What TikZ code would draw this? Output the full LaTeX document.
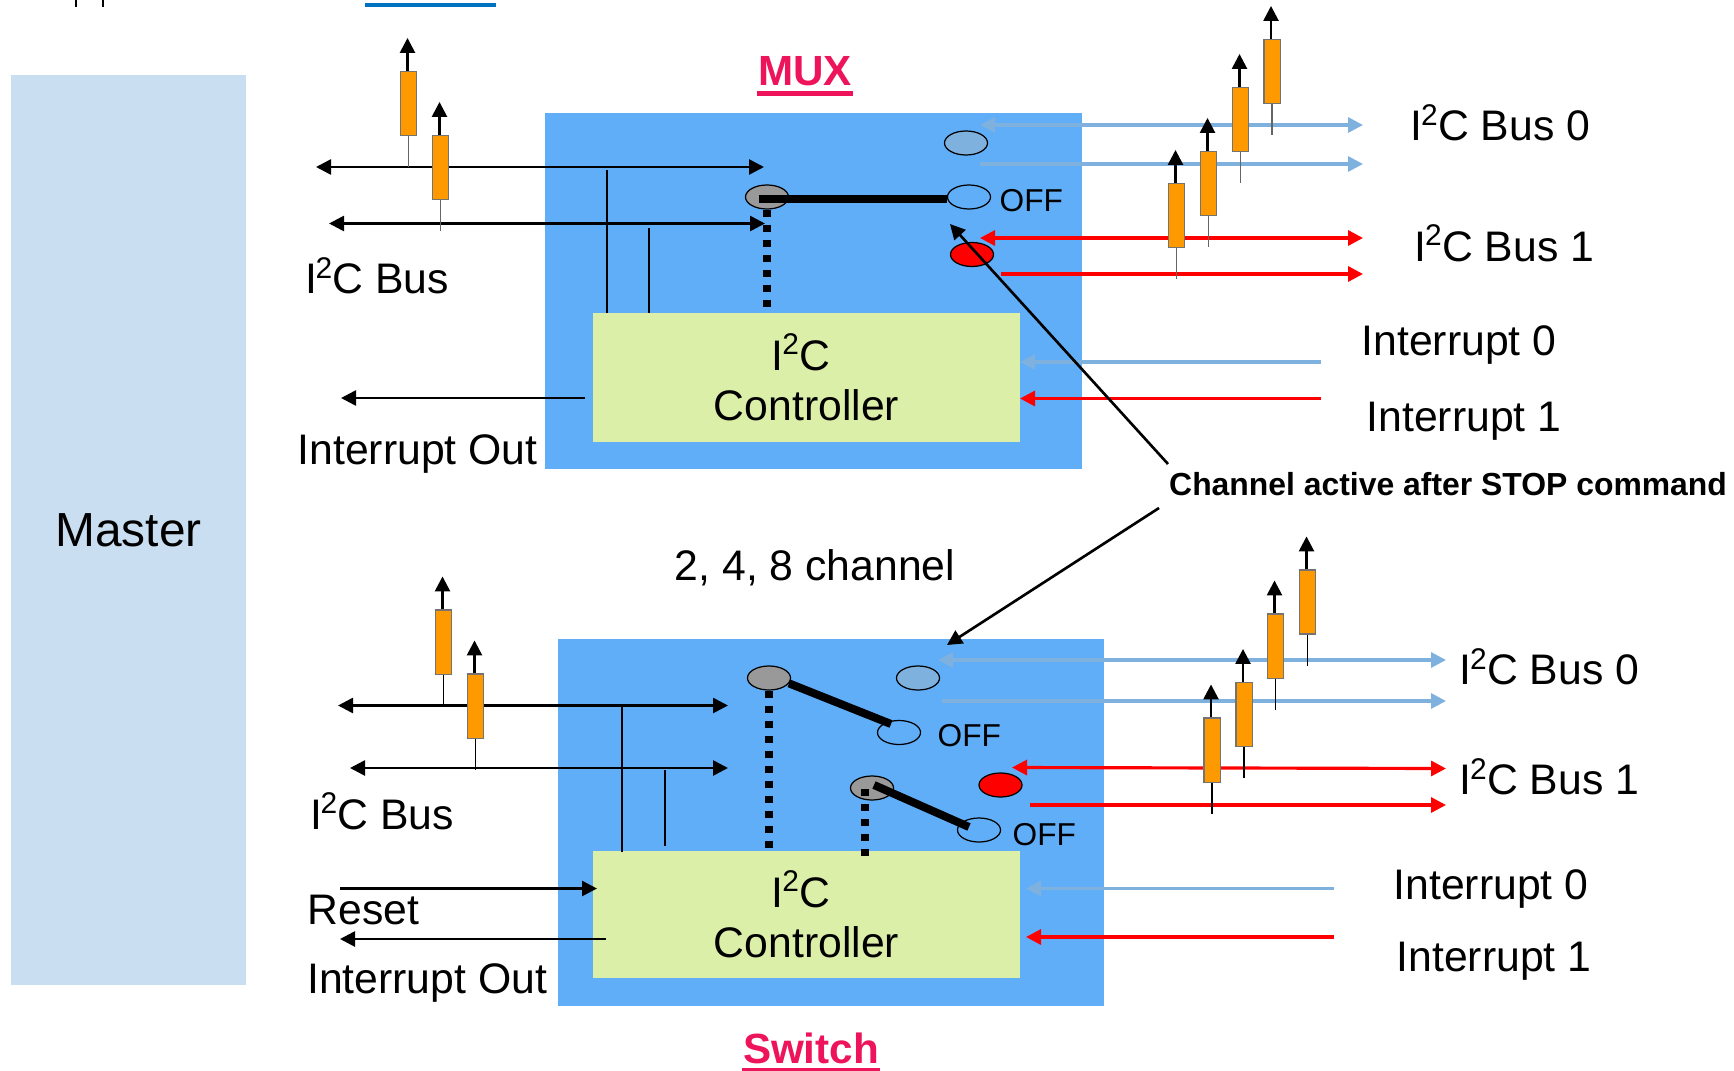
\documentclass[tikz,border=0pt]{standalone}
\usepackage{xcolor}
\usepackage{fontspec}
\setmainfont{Liberation Sans}
\usetikzlibrary{arrows.meta,shapes.geometric}
\definecolor{MasterBlue}{HTML}{C9DEF0}
\definecolor{BoxBlue}{HTML}{60AEF8}
\definecolor{CtrlGreen}{HTML}{DCEFA9}
\definecolor{BusBlue}{HTML}{7EB1DE}
\definecolor{TitleRed}{HTML}{ED145B}
\definecolor{RuleBlue}{HTML}{0070C0}
\definecolor{StubOrange}{HTML}{FF9900}
\newcommand{\itc}{I\kern-0.4pt\textsuperscript{2}\kern-0.4pt C}

\tikzset{
    lab/.style={inner sep=0pt, anchor=base west, font=\fontsize{12.15pt}{14pt}\selectfont},
    offlab/.style={lab, font=\fontsize{9pt}{11pt}\selectfont},
    titlelab/.style={inner sep=0pt, anchor=base, text=TitleRed, font=\fontsize{12pt}{14pt}\selectfont\bfseries},
    titleline/.style={draw=TitleRed, line width=0.05cm},
    chipbox/.style={fill=BoxBlue, inner sep=0pt},
    ctrlbox/.style={fill=CtrlGreen, inner sep=0pt, minimum width=4.27cm, align=center, font=\fontsize{12.15pt}{14.4pt}\selectfont},
    stubbox/.style={draw=black!55, line width=0.3pt, fill=StubOrange, inner sep=0pt, minimum width=0.16cm, minimum height=0.64cm},
    contact/.style={draw=black, line width=0.35pt, ellipse, inner sep=0pt, minimum width=0.43cm, minimum height=0.24cm},
    lever/.style={line width=0.08cm},
    dotline/.style={line width=0.08cm, dash pattern=on 0.07cm off 0.08cm},
    wire/.style={line width=0.75pt, >={Triangle[length=0.15cm,width=0.15cm]}},
    bluewire/.style={wire, draw=BusBlue, line width=0.9pt},
    redwire/.style={wire, draw=red, line width=0.9pt}
}

\begin{document}
\begin{tikzpicture}[x=0.01cm, y=-0.01cm]
    \useasboundingbox (0,0) rectangle (1734,1070);

    \fill[black] (74.5,0) rectangle (77,7);
    \fill[black] (101.5,0) rectangle (104,7);
    \fill[RuleBlue] (365,3) rectangle (496,7);

    \node[fill=MasterBlue, inner sep=0pt, minimum width=2.35cm, minimum height=9.09cm, font=\fontsize{13.6pt}{16pt}\selectfont] (master) at (128.5,530) {\raisebox{-0.06cm}{Master}};

    \node[chipbox, minimum width=5.37cm, minimum height=3.56cm] (muxchip) at (813.5,291) {};
    \node[chipbox, minimum width=5.46cm, minimum height=3.66cm] (swchip) at (831,822.5) {};
    \node[ctrlbox, minimum height=1.29cm] (muxctrl) at (806.5,377.5) {\itc\hspace*{0.11cm}\\Controller};
    \node[ctrlbox, minimum height=1.26cm] (swctrl) at (806.5,914.5) {\itc\hspace*{0.11cm}\\Controller};

    \node[titlelab] (muxtitle) at (805,86) {MUX};
    \node[titlelab] (swtitle) at (811,1063.5) {Switch};
    \draw[titleline] ([yshift=-0.065cm]muxtitle.south west) -- ([yshift=-0.065cm]muxtitle.south east);
    \draw[titleline] ([yshift=-0.055cm]swtitle.south west) -- ([yshift=-0.055cm]swtitle.south east);

    \foreach \name/\x/\y in {muxbusAl/316/167, muxbusAr/764/167, muxbusBl/329/223.5, muxbusBr/765/223.5,
        muxtapA/607/170, muxtapAd/607/313, muxtapB/649/228, muxtapBd/649/313,
        muxintS/585/398, muxintE/341/398,
        muxblueAl/980/125, muxblueAr/1363/125, muxblueBl/980/164, muxblueBr/1363/164,
        muxredAl/980/238, muxredAr/1363/238, muxredBl/1001/274, muxredBr/1363/274,
        muxirqA/1321/362, muxirqAe/1020/362, muxirqB/1321/398.5, muxirqBe/1020/398.5,
        swbusAl/338/705.5, swbusAr/728/705.5, swbusBl/350/768, swbusBr/728/768,
        swtapA/622/705, swtapAd/622/852, swtapB/665/770, swtapBd/665/846,
        swreset/340/888.5, swresetE/597/888.5, swintS/606/939, swintE/340/939,
        swblueAl/938/660, swblueAr/1446/660, swblueBl/942/701, swblueBr/1446/701,
        swredAl/1012/767.5, swredAr/1446/768.5, swredBl/1030/805, swredBr/1446/805,
        swirqA/1334/888.5, swirqAe/1026/888.5, swirqB/1334/937, swirqBe/1026/937,
        noteA/1168/464, noteAe/950/224, noteB/1159/508, noteBe/947/645}
        \coordinate (\name) at (\x,\y);

    \draw[wire, <->] (muxbusAl) -- (muxbusAr);
    \draw[wire, <->] (muxbusBl) -- (muxbusBr);
    \draw[wire] (muxtapA) -- (muxtapAd);
    \draw[wire] (muxtapB) -- (muxtapBd);
    \draw[wire, ->] (muxintS) -- (muxintE);
    \draw[bluewire, <->] (muxblueAl) -- (muxblueAr);
    \draw[bluewire, ->] (muxblueBl) -- (muxblueBr);
    \draw[redwire, <->] (muxredAl) -- (muxredAr);
    \draw[redwire, ->] (muxredBl) -- (muxredBr);
    \draw[bluewire, ->] (muxirqA) -- (muxirqAe);
    \draw[redwire, ->] (muxirqB) -- (muxirqBe);

    \draw[wire, <->] (swbusAl) -- (swbusAr);
    \draw[wire, <->] (swbusBl) -- (swbusBr);
    \draw[wire] (swtapA) -- (swtapAd);
    \draw[wire] (swtapB) -- (swtapBd);
    \draw[wire, ->] (swreset) -- (swresetE);
    \draw[wire, ->] (swintS) -- (swintE);
    \draw[bluewire, <->] (swblueAl) -- (swblueAr);
    \draw[bluewire, ->] (swblueBl) -- (swblueBr);
    \draw[redwire, <->] (swredAl) -- (swredAr);
    \draw[redwire, ->] (swredBl) -- (swredBr);
    \draw[bluewire, ->] (swirqA) -- (swirqAe);
    \draw[redwire, ->] (swirqB) -- (swirqBe);

    \foreach \name/\x/\y/\legcol in {stubA/408.5/103.5/black!60, stubB/440.5/167.5/black!60,
        stubC/1176.5/215.5/black!60, stubD/1208.5/183.5/black!60, stubE/1240.5/119.5/black!60, stubF/1272/71.5/black!60,
        stubG/443.5/642/black, stubH/475.5/706/black,
        stubI/1212/750/black, stubJ/1244/714.5/black, stubK/1275.5/646/black, stubL/1307.5/602/black} {
        \node[stubbox] (\name) at (\x,\y) {};
        \path (\name.north) ++(-1,-33) coordinate (\name tip);
        \path (\name.south) ++(0,31) coordinate (\name leg);
        \draw[wire, ->] (\name tip |- \name.north) -- (\name tip);
        \draw[draw=\legcol, line width=0.35pt] (\name.south) -- (\name leg);
    }

    \node[contact, fill=black!40] (muxsw) at (767,197) {};
    \node[contact] (muxoff) at (969,197) {};
    \node[contact, fill=BusBlue] (muxidle) at (966,143) {};
    \node[contact, fill=red] (muxred) at (972,254.5) {};
    \draw[lever] ([xshift=-0.08cm,yshift=-0.02cm]muxsw.center) -- ([yshift=-0.02cm]muxoff.west);
    \draw[dotline] (muxsw.south) ++(0,-0.01) -- (muxsw.center |- muxctrl.north);

    \node[contact, fill=black!40] (swswA) at (769,678) {};
    \node[contact] (swoffA) at (899,732.5) {};
    \node[contact, fill=BusBlue] (swidle) at (918,678) {};
    \node[contact, fill=red] (swred) at (1000.5,785) {};
    \node[contact, fill=black!40] (swswB) at (872,788) {};
    \node[contact] (swoffB) at (979,830) {};
    \coordinate (swleverA) at (891,724);
    \coordinate (swleverB) at (969,827);
    \coordinate (swdotB) at (865,789);
    \coordinate (swdotBe) at (865,860);
    \draw[lever] (swswA.-15) -- (swleverA);
    \draw[lever] ([xshift=0.02cm,yshift=0.03cm]swswB.center) -- (swleverB);
    \draw[dotline] (swswA.south) -- (swswA.center |- swctrl.north);
    \draw[dotline] (swdotB) -- (swdotBe);

    \node[offlab] (muxofflab) at (999,212) {OFF};
    \node[offlab] (swofflabA) at (937,746.5) {OFF};
    \node[offlab] (swofflabB) at (1012,845) {OFF};

    \node[lab] (muxbuslab) at (304.5,293.5) {\itc{} Bus};
    \node[lab] (muxintlab) at (297,464) {Interrupt Out};
    \node[lab] (muxbusA) at (1410,141) {\itc{} Bus 0};
    \node[lab] (muxbusB) at (1414,261) {\itc{} Bus 1};
    \node[lab] (muxirqAlab) at (1361,355) {Interrupt 0};
    \node[lab] (muxirqBlab) at (1366,431) {Interrupt 1};

    \node[lab] (swbuslab) at (309.5,829) {\itc{} Bus};
    \node[lab] (swresetlab) at (307,924) {Reset};
    \node[lab] (swintlab) at (306.5,993) {Interrupt Out};
    \node[lab] (swbusA) at (1459,684.5) {\itc{} Bus 0};
    \node[lab] (swbusB) at (1459,794.5) {\itc{} Bus 1};
    \node[lab] (swirqAlab) at (1393,899.5) {Interrupt 0};
    \node[lab] (swirqBlab) at (1396,971) {Interrupt 1};

    \node[lab, anchor=base] (chanlab) at (815,580) {2, 4, 8 channel};
    \node[lab, font=\fontsize{9.07pt}{11pt}\selectfont\bfseries] (stoplab) at (1168.5,495) {Channel active after STOP command};

    \draw[wire, ->] (noteA) -- (noteAe);
    \draw[wire, ->] (noteB) -- (noteBe);
\end{tikzpicture}
\end{document}
